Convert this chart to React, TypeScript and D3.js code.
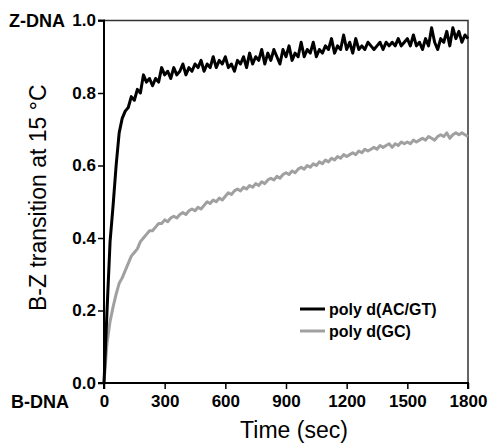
import React, { useEffect, useRef } from 'react';
import * as d3 from 'd3';

// sampling grid (sec)
const times: number[] = d3.range(0, 1801, 15);

// poly d(AC/GT) – black trace
const acgt: number[] = [
  0.00, 0.20, 0.39, 0.49, 0.60, 0.69, 0.73, 0.75, 0.76, 0.79,
  0.78, 0.81, 0.80, 0.85, 0.83, 0.84, 0.82, 0.84, 0.83, 0.87,
  0.85, 0.86, 0.84, 0.87, 0.85, 0.86, 0.88, 0.85, 0.87, 0.86,
  0.88, 0.87, 0.89, 0.86, 0.88, 0.87, 0.90, 0.87, 0.89, 0.88,
  0.90, 0.87, 0.88, 0.86, 0.89, 0.88, 0.90, 0.87, 0.91, 0.88,
  0.90, 0.89, 0.92, 0.88, 0.91, 0.89, 0.92, 0.90, 0.88, 0.92,
  0.90, 0.93, 0.89, 0.91, 0.90, 0.94, 0.90, 0.92, 0.91, 0.94,
  0.90, 0.92, 0.91, 0.93, 0.92, 0.95, 0.91, 0.93, 0.92, 0.96,
  0.92, 0.94, 0.91, 0.95, 0.92, 0.93, 0.92, 0.94, 0.93, 0.92,
  0.93, 0.94, 0.92, 0.94, 0.93, 0.94, 0.93, 0.95, 0.93, 0.94,
  0.95, 0.93, 0.96, 0.93, 0.94, 0.92, 0.95, 0.93, 0.98, 0.94,
  0.92, 0.95, 0.94, 0.97, 0.93, 0.98, 0.95, 0.97, 0.94, 0.96,
  0.95,
];

// poly d(GC) – grey trace
const gc: number[] = [
  0.00, 0.11, 0.17, 0.21, 0.245, 0.275, 0.29, 0.31, 0.33, 0.35,
  0.36, 0.37, 0.39, 0.40, 0.41, 0.42, 0.42, 0.43, 0.44, 0.44,
  0.45, 0.445, 0.455, 0.46, 0.455, 0.465, 0.47, 0.465, 0.475, 0.48,
  0.475, 0.485, 0.48, 0.49, 0.50, 0.495, 0.505, 0.50, 0.51, 0.505,
  0.515, 0.525, 0.52, 0.53, 0.535, 0.53, 0.54, 0.535, 0.545, 0.54,
  0.55, 0.545, 0.555, 0.55, 0.56, 0.565, 0.56, 0.57, 0.565, 0.575,
  0.58, 0.575, 0.585, 0.58, 0.59, 0.595, 0.59, 0.60, 0.595, 0.605,
  0.60, 0.61, 0.605, 0.615, 0.61, 0.62, 0.615, 0.625, 0.62, 0.63,
  0.625, 0.63, 0.635, 0.63, 0.64, 0.635, 0.645, 0.64, 0.645, 0.65,
  0.645, 0.655, 0.65, 0.655, 0.66, 0.65, 0.66, 0.655, 0.665, 0.66,
  0.665, 0.66, 0.67, 0.665, 0.67, 0.675, 0.67, 0.68, 0.675, 0.67,
  0.68, 0.685, 0.68, 0.69, 0.675, 0.685, 0.69, 0.685, 0.69, 0.685,
  0.68,
];

const xTicks = [0, 300, 600, 900, 1200, 1500, 1800];
const yTicks = [0, 0.2, 0.4, 0.6, 0.8, 1.0];
const seriesNames = ['poly d(AC/GT)', 'poly d(GC)'];
const seriesColors = ['#000000', '#a0a0a0'];

export default function App() {
  const ref = useRef<SVGSVGElement>(null);

  useEffect(() => {
    const width = 489;
    const height = 445;
    const margin = { top: 20.5, right: 21, bottom: 62, left: 104 };
    const font = 'Arial, "Liberation Sans", sans-serif';

    const svg = d3.select(ref.current);
    svg.selectAll('*').remove();

    const x = d3.scaleLinear().domain([0, 1800]).range([margin.left, width - margin.right]);
    const y = d3.scaleLinear().domain([0, 1]).range([height - margin.bottom, margin.top]);

    // frame (top + right)
    svg.append('path')
      .attr('d', `M${x(0)},${y(1)}H${x(1800)}V${y(0)}`)
      .attr('fill', 'none')
      .attr('stroke', '#333')
      .attr('stroke-width', 1.5);

    const line = d3.line<number>()
      .x((_, i) => x(times[i]))
      .y(d => y(d));

    [gc, acgt].forEach((s, k) => {
      svg.append('path')
        .datum(s)
        .attr('d', line)
        .attr('fill', 'none')
        .attr('stroke', k === 0 ? seriesColors[1] : seriesColors[0])
        .attr('stroke-width', 3)
        .attr('stroke-linejoin', 'round');
    });

    // axes
    const gx = svg.append('g')
      .attr('transform', `translate(0,${y(0)})`)
      .call(d3.axisBottom(x).tickValues(xTicks).tickSize(6).tickPadding(6).tickFormat(d3.format('d')));
    const gy = svg.append('g')
      .attr('transform', `translate(${x(0)},0)`)
      .call(d3.axisLeft(y).tickValues(yTicks).tickSize(6).tickPadding(2).tickFormat(d3.format('.1f')));

    [gx, gy].forEach(g => {
      g.select('.domain').attr('stroke', '#000').attr('stroke-width', 2);
      g.selectAll('.tick line').attr('stroke', '#000').attr('stroke-width', 1.5);
      g.selectAll('.tick text')
        .attr('fill', '#000')
        .style('font-family', font)
        .style('font-size', '17px')
        .style('font-weight', 'bold');
    });
    gy.select('.domain').attr('d', `M-6,${y(1)}H0V${y(0)}H-6`);
    gx.select('.domain').attr('d', `M${x(0)},6V0H${x(1800)}V6`);

    // end labels
    svg.append('text')
      .attr('x', 9).attr('y', y(1) + 6)
      .style('font-family', font).style('font-size', '18px').style('font-weight', 'bold')
      .text('Z-DNA');
    svg.append('text')
      .attr('x', 11).attr('y', y(0) + 25)
      .style('font-family', font).style('font-size', '18px').style('font-weight', 'bold')
      .text('B-DNA');

    // axis titles
    svg.append('text')
      .attr('x', 294).attr('y', 438)
      .attr('text-anchor', 'middle')
      .style('font-family', font).style('font-size', '23px')
      .text('Time (sec)');
    svg.append('text')
      .attr('transform', `translate(46,${(y(0) + y(1)) / 2 - 4}) rotate(-90)`)
      .attr('text-anchor', 'middle')
      .style('font-family', font).style('font-size', '23px')
      .text('B-Z transition at 15 \u00B0C');

    // legend
    const legend = svg.append('g');
    seriesNames.forEach((name, i) => {
      const ly = 309 + i * 22;
      legend.append('line')
        .attr('x1', 300).attr('x2', 325).attr('y1', ly).attr('y2', ly)
        .attr('stroke', seriesColors[i]).attr('stroke-width', 3);
      legend.append('text')
        .attr('x', 329).attr('y', ly + 6)
        .style('font-family', font).style('font-size', '16px').style('font-weight', 'bold')
        .text(name);
    });
  }, []);

  return (
    <svg
      ref={ref}
      width={489}
      height={445}
      style={{ position: 'absolute', left: 0, top: 0, background: '#fff' }}
    />
  );
}
